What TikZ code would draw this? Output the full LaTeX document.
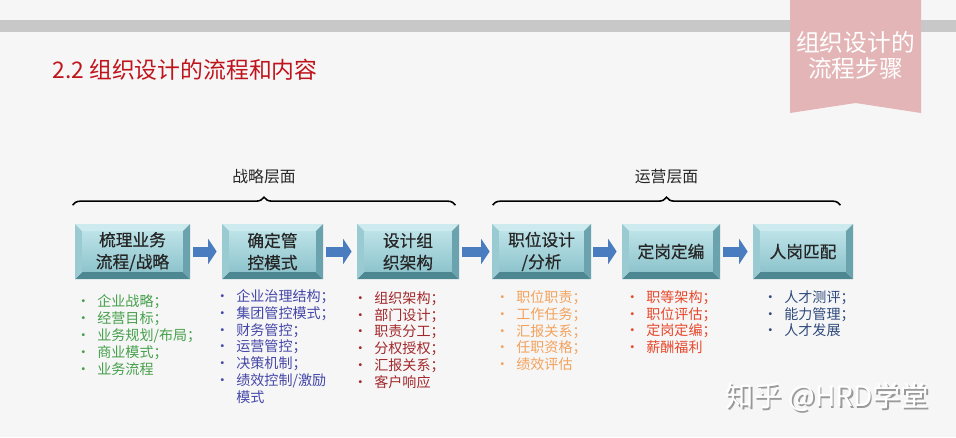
\documentclass[tikz,border=0pt]{standalone}
\usepackage{fontspec}
\setmainfont{Noto Sans CJK SC}
\newfontfamily\boxfont{Noto Sans CJK SC}[FakeBold=0.6]
\usepackage{tikz}
\usetikzlibrary{arrows.meta,positioning,decorations.pathreplacing,calc}
\definecolor{cBg}{HTML}{F6F6F6}
\definecolor{cBar}{HTML}{C8C8C8}
\definecolor{cRib}{HTML}{E4B5B6}
\definecolor{cTtl}{HTML}{C0141C}
\definecolor{cArr}{HTML}{4A7CC0}
\definecolor{bvT}{HTML}{CDEBEF}
\definecolor{bvL}{HTML}{9ACBD3}
\definecolor{bvR}{HTML}{6AA3AD}
\definecolor{bvB}{HTML}{4D8791}
\definecolor{fcT}{HTML}{BCE2E7}
\definecolor{fcB}{HTML}{8EC4CD}
\definecolor{cG}{HTML}{45A04A}
\definecolor{cB}{HTML}{4446A8}
\definecolor{cR}{HTML}{A2282B}
\definecolor{cO}{HTML}{F3A25C}
\definecolor{cRo}{HTML}{E8472B}
\definecolor{cN}{HTML}{2E4A7C}
\def\bv{0.15cm}
\tikzset{
  stepbox/.style={minimum width=#1,minimum height=1.1cm,inner sep=0pt,align=center,
    font=\boxfont\fontsize{9.5}{12.5}\selectfont,text=black!85,
    path picture={
      \fill[bvT] (path picture bounding box.north west) -- (path picture bounding box.north east)
        -- ([shift={(-\bv,-\bv)}]path picture bounding box.north east) -- ([shift={(\bv,-\bv)}]path picture bounding box.north west) -- cycle;
      \fill[bvB] (path picture bounding box.south west) -- (path picture bounding box.south east)
        -- ([shift={(-\bv,\bv)}]path picture bounding box.south east) -- ([shift={(\bv,\bv)}]path picture bounding box.south west) -- cycle;
      \fill[bvL] (path picture bounding box.north west) -- (path picture bounding box.south west)
        -- ([shift={(\bv,\bv)}]path picture bounding box.south west) -- ([shift={(\bv,-\bv)}]path picture bounding box.north west) -- cycle;
      \fill[bvR] (path picture bounding box.north east) -- (path picture bounding box.south east)
        -- ([shift={(-\bv,\bv)}]path picture bounding box.south east) -- ([shift={(-\bv,-\bv)}]path picture bounding box.north east) -- cycle;
      \shade[top color=fcT,bottom color=fcB] ([shift={(\bv,-\bv)}]path picture bounding box.north west)
        rectangle ([shift={(-\bv,\bv)}]path picture bounding box.south east);
    }},
  flow/.style={draw=cArr,line width=0.2cm,-{Triangle[width=0.5cm,length=0.17cm]}},
  brc/.style={decorate,decoration={brace,amplitude=0.16cm},line width=0.9pt},
  lvl/.style={inner sep=0pt,font=\fontsize{9}{11}\selectfont,text=black!85},
  lst/.style={anchor=north west,align=left,inner sep=0pt,font=\fontsize{8}{9.6}\selectfont}
}
\newcommand{\itm}{\makebox[0.42cm][l]{\textbullet}}
\newcommand{\gap}{\makebox[0.42cm][l]{}}

\begin{document}
\begin{tikzpicture}
  \fill[cBg] (0,0) rectangle (19.12,8.74);
  \useasboundingbox (0,0) rectangle (19.12,8.74);
  % header
  \fill[cBar] (0,8.1) rectangle (19.12,8.34);
  \fill[cRib] (15.8,8.74) -- (18.42,8.74) -- (18.42,6.48) -- (17.11,6.68) -- (15.8,6.48) -- cycle;
  \node[text=white,align=center,font=\fontsize{13.5}{14.5}\selectfont] (tag) at (17.11,7.63) {组织设计的\\流程步骤};
  \node[anchor=west,inner sep=0pt,text=cTtl,font=\fontsize{13}{15}\selectfont] (ttl) at (1.04,7.34) {2.2 组织设计的流程和内容};
  % steps
  \node[stepbox=2.3cm] (b1) at (2.65,3.71) {梳理业务\\流程/战略};
  \node[stepbox=2.02cm] (b2) at (5.45,3.71) {确定管\\控模式};
  \node[stepbox=2.04cm] (b3) at (8.16,3.71) {设计组\\织架构};
  \node[stepbox=1.98cm] (b4) at (10.83,3.71) {职位设计\\/分析};
  \node[stepbox=1.96cm] (b5) at (13.42,3.71) {定岗定编};
  \node[stepbox=2.0cm] (b6) at (16.06,3.71) {人岗匹配};
  \draw[flow] ([xshift=0.06cm]b1.east) -- ([xshift=-0.1cm]b2.west);
  \draw[flow] ([xshift=0.06cm]b2.east) -- ([xshift=-0.1cm]b3.west);
  \draw[flow] ([xshift=0.06cm]b3.east) -- ([xshift=-0.04cm]b4.west);
  \draw[flow] ([xshift=0.04cm]b4.east) -- ([xshift=-0.1cm]b5.west);
  \draw[flow] ([xshift=0.06cm]b5.east) -- ([xshift=-0.1cm]b6.west);
  % levels
  \draw[brc] ([shift={(-0.04,0.37)}]b1.north west) -- ([shift={(-0.08,0.37)}]b3.north east)
    node[lvl,midway,above=0.4cm] (lv1) {战略层面};
  \draw[brc] ([shift={(0.02,0.37)}]b4.north west) -- ([shift={(-0.26,0.37)}]b6.north east)
    node[lvl,midway,above=0.4cm] (lv2) {运营层面};
  % contents
  \node[lst,text=cG] (l1) at (1.52,2.85) {\itm 企业战略；\\\itm 经营目标；\\\itm 业务规划/布局；\\\itm 商业模式；\\\itm 业务流程};
  \node[lst,text=cB] (l2) at (4.3,2.96) {\itm 企业治理结构；\\\itm 集团管控模式；\\\itm 财务管控；\\\itm 运营管控；\\\itm 决策机制；\\\itm 绩效控制/激励\\\gap 模式};
  \node[lst,text=cR] (l3) at (7.06,2.92) {\itm 组织架构；\\\itm 部门设计；\\\itm 职责分工；\\\itm 分权授权；\\\itm 汇报关系；\\\itm 客户响应};
  \node[lst,text=cO] (l4) at (9.9,2.94) {\itm 职位职责；\\\itm 工作任务；\\\itm 汇报关系；\\\itm 任职资格；\\\itm 绩效评估};
  \node[lst,text=cRo] (l5) at (12.5,2.94) {\itm 职等架构；\\\itm 职位评估；\\\itm 定岗定编；\\\itm 薪酬福利};
  \node[lst,text=cN] (l6) at (15.26,2.94) {\itm 人才测评；\\\itm 能力管理；\\\itm 人才发展};
  % watermark
  \node[text=black!40,font=\fontsize{16}{16}\selectfont] (wms) at (16.58,0.77) {知乎 @HRD学堂};
  \node[text=white,font=\fontsize{16}{16}\selectfont] (wm) at ([shift={(-0.03,0.03)}]wms.center) {知乎 @HRD学堂};
\end{tikzpicture}
\end{document}
